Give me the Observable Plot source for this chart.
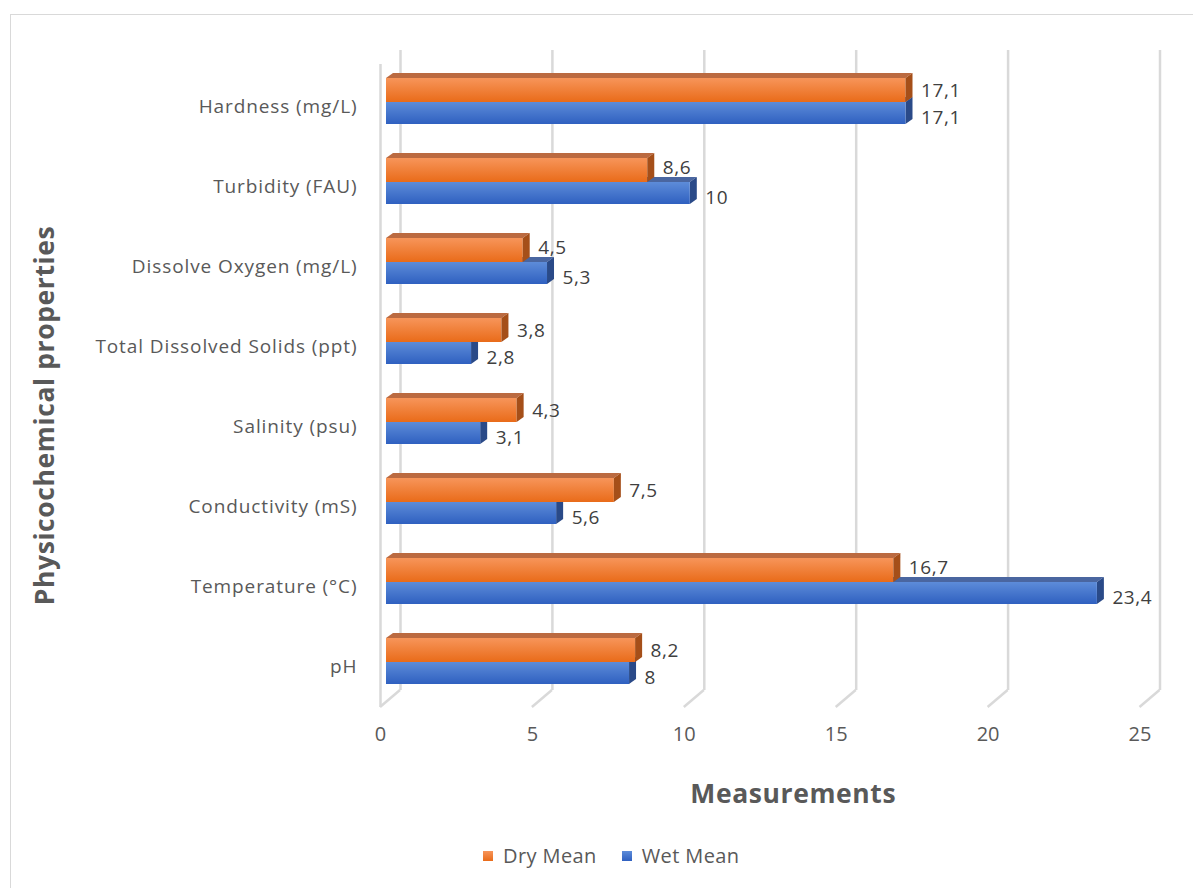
<!DOCTYPE html>
<html>
<head>
<meta charset="utf-8">
<script src="https://cdn.jsdelivr.net/npm/d3@7"></script>
<script src="https://cdn.jsdelivr.net/npm/@observablehq/plot@0.6"></script>
<style>
  body { margin: 0; background: #fff; }
  #wrap { position: relative; width: 1193px; height: 888px; overflow: hidden; font-family: "Open Sans", sans-serif; }
  #frame { position: absolute; left: 10px; top: 14px; width: 1400px; height: 1000px;
           border-top: 1.5px solid #d9d9d9; border-left: 1.5px solid #d9d9d9; }
  #chart { position: absolute; left: 0; top: 0; }
  #chart g[aria-label="y-axis tick label"] text { letter-spacing: 0.9px; }
  #chart g[aria-label="text"] text { letter-spacing: 0.6px; }
  #legend { position: absolute; left: 483px; top: 842px; display: flex; align-items: center;
            font-size: 20px; letter-spacing: 0.4px; color: #595959; }
  #legend .sw { width: 10px; height: 10px; margin-right: 10px; }
  #legend .item { display: flex; align-items: center; margin-right: 25px; }
</style>
</head>
<body>
<div id="wrap">
  <div id="frame"></div>
  <div id="chart"></div>
  <div id="legend"></div>
</div>
<script>
// Physicochemical properties, dry vs wet season means
const properties = [
  "Hardness (mg/L)",
  "Turbidity (FAU)",
  "Dissolve Oxygen (mg/L)",
  "Total Dissolved Solids (ppt)",
  "Salinity (psu)",
  "Conductivity (mS)",
  "Temperature (°C)",
  "pH"
];
const dryMean = [17.1, 8.6, 4.5, 3.8, 4.3, 7.5, 16.7, 8.2];
const wetMean = [17.1, 10, 5.3, 2.8, 3.1, 5.6, 23.4, 8];
const seriesNames = ["Dry Mean", "Wet Mean"];
const xTicks = [0, 5, 10, 15, 20, 25];
const xTitle = "Measurements";
const yTitle = "Physicochemical properties";

const dry = properties.map((p, i) => ({property: p, value: dryMean[i], other: wetMean[i]}));
const wet = properties.map((p, i) => ({property: p, value: wetMean[i], other: dryMean[i]}));

const fmt = v => String(v).replace(".", ",");

// bar geometry inside each 80px category band (pixels)
const DRY_TOP = 16, MID = 40, WET_BOTTOM = 62;
const DEPTH_X = 7, DEPTH_Y = -5;        // extrusion of the 3D bars
const BACK_DX = 14, BACK_DY = -12;      // back wall offset from the bar plane
const FLOOR_DX = -6, FLOOR_DY = 5;      // front floor edge offset

const colors = {
  dry: {light: "#f7955a", dark: "#e96b19", top: "#bb6a40", side: "#a54f19"},
  wet: {light: "#5d8cd9", dark: "#2f60c0", top: "#4a66a0", side: "#2a4a88"}
};
const gridColor = "#d9d9d9";

// gradient definitions for the front faces
function gradients() {
  const defs = d3.create("svg:defs");
  for (const [key, c] of Object.entries(colors)) {
    const g = defs.append("linearGradient").attr("id", "grad-" + key)
      .attr("x1", 0).attr("y1", 0).attr("x2", 0).attr("y2", 1);
    g.append("stop").attr("offset", "0%").attr("stop-color", c.light);
    g.append("stop").attr("offset", "100%").attr("stop-color", c.dark);
  }
  return defs.node();
}

// slanted floor segments joining back wall gridlines to the front edge
function floorLines(index, scales, values, dim) {
  const x = scales.x;
  const yBack = dim.height - dim.marginBottom + BACK_DY;
  const yFront = dim.height - dim.marginBottom + FLOOR_DY;
  const g = d3.create("svg:g").attr("stroke", gridColor).attr("stroke-width", 2.5).attr("fill", "none");
  for (const t of xTicks) {
    g.append("line")
      .attr("x1", x(t) + BACK_DX).attr("y1", yBack)
      .attr("x2", x(t) + FLOOR_DX).attr("y2", yFront);
  }
  return g.node();
}

// top and side faces of the extruded bars
function faces(rows, top, bottom, c) {
  return (index, scales) => {
    const x = scales.x, y = scales.y;
    const g = d3.create("svg:g");
    for (const d of rows) {
      const b = y(d.property);
      const x0 = x(0), xv = x(d.value);
      const y1 = b + top, y2 = b + bottom;
      g.append("path").attr("fill", c.top)
        .attr("d", `M${x0},${y1}L${xv},${y1}L${xv + DEPTH_X},${y1 + DEPTH_Y}L${x0 + DEPTH_X},${y1 + DEPTH_Y}Z`);
      g.append("path").attr("fill", c.side)
        .attr("d", `M${xv},${y1}L${xv + DEPTH_X},${y1 + DEPTH_Y}L${xv + DEPTH_X},${y2 + DEPTH_Y}L${xv},${y2}Z`);
    }
    return g.node();
  };
}

const chart = Plot.plot({
  width: 1193,
  height: 830,
  marginLeft: 386,
  marginRight: 47.5,
  marginTop: 62,
  marginBottom: 128,
  style: {fontFamily: "'Open Sans', sans-serif", fontSize: "19px", color: "#595959", background: "transparent"},
  x: {domain: [0, 25]},
  y: {domain: properties, padding: 0},
  marks: [
    gradients,
    // left wall front edge
    Plot.ruleX([0], {dx: FLOOR_DX, dy: FLOOR_DY, insetTop: -3, stroke: gridColor, strokeWidth: 2.5}),
    // back wall gridlines
    Plot.ruleX(xTicks, {dx: BACK_DX, dy: BACK_DY, stroke: gridColor, strokeWidth: 2.5}),
    floorLines,
    faces(wet, MID, WET_BOTTOM, colors.wet),
    Plot.barX(dry, {x: "value", y: "property", fill: "url(#grad-dry)", insetTop: DRY_TOP, insetBottom: 80 - MID}),
    faces(dry, DRY_TOP, MID, colors.dry),
    Plot.barX(wet, {x: "value", y: "property", fill: "url(#grad-wet)", insetTop: MID, insetBottom: 80 - WET_BOTTOM}),
    // value labels
    Plot.text(dry.filter(d => d.other <= d.value), {x: "value", y: "property", text: d => fmt(d.value),
      dx: 15, dy: -12, textAnchor: "start", fill: "#404040", fontSize: 19}),
    Plot.text(dry.filter(d => d.other > d.value), {x: "value", y: "property", text: d => fmt(d.value),
      dx: 15, dy: -15, textAnchor: "start", fill: "#404040", fontSize: 19}),
    Plot.text(wet, {x: "value", y: "property", text: d => fmt(d.value),
      dx: 15, dy: 15, textAnchor: "start", fill: "#404040", fontSize: 19}),
    // axes
    Plot.axisY({tickSize: 0, tickPadding: 29, dy: 4, fontSize: 19, label: null}),
    Plot.axisX({ticks: xTicks, tickSize: 0, tickPadding: 24, dx: FLOOR_DX, fontSize: 20, label: null}),
    // axis titles
    Plot.text([xTitle], {frameAnchor: "bottom", dx: 27, dy: 100, fontSize: 26.5, fontWeight: "bold", fill: "#595959"}),
    Plot.text([yTitle], {frameAnchor: "left", textAnchor: "middle", rotate: -90, dx: -341, dy: 33, fontSize: 26.5, fontWeight: "bold", fill: "#595959"})
  ]
});
document.getElementById("chart").appendChild(chart);

// legend
const legend = d3.select("#legend");
seriesNames.forEach((name, i) => {
  const c = i === 0 ? colors.dry : colors.wet;
  const item = legend.append("div").attr("class", "item");
  item.append("div").attr("class", "sw").style("background", `linear-gradient(${c.light}, ${c.dark})`);
  item.append("span").text(name);
});
</script>
</body>
</html>
